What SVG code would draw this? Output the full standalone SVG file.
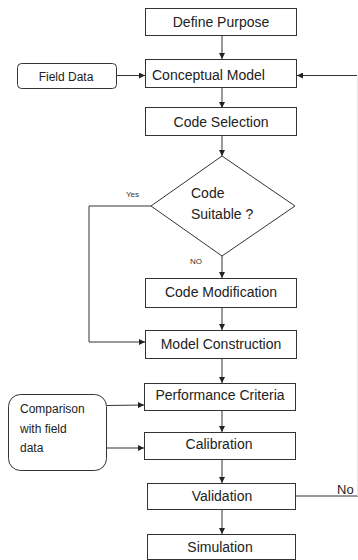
<svg xmlns="http://www.w3.org/2000/svg" width="358" height="560" viewBox="0 0 358 560">
<defs>
<marker id="ah" viewBox="0 0 6 6" refX="6" refY="3" markerWidth="6" markerHeight="6" markerUnits="userSpaceOnUse" orient="auto">
<path d="M0,0 L6,3 L0,6 Z" fill="#222"/>
</marker>
<style>
.box{fill:#fff;stroke:#333;stroke-width:1}
.t{font-family:"Liberation Sans",Arial,sans-serif;font-size:14px;fill:#222}
.tc{text-anchor:middle}
.s{font-family:"Liberation Sans",Arial,sans-serif;font-size:12px;fill:#222}
.xs{font-family:"Liberation Sans",Arial,sans-serif;font-size:8px;fill:#333}
.c{fill:none;stroke:#333;stroke-width:1}
.ca{fill:none;stroke:#333;stroke-width:1;marker-end:url(#ah)}
</style>
</defs>
<rect width="358" height="560" fill="#fff"/>
<g id="connectors">
<line class="ca" x1="222" y1="36" x2="222" y2="59"/>
<line class="ca" x1="117" y1="75.5" x2="145" y2="75.5"/>
<line class="ca" x1="357" y1="75.5" x2="297" y2="75.5"/>
<line class="ca" x1="222" y1="88" x2="222" y2="108"/>
<line class="ca" x1="222" y1="136" x2="222" y2="156"/>
<polyline class="ca" points="151,206 89,206 89,342 145,342"/>
<line class="ca" x1="222" y1="256" x2="222" y2="278"/>
<line class="ca" x1="222" y1="308" x2="222" y2="330"/>
<line class="ca" x1="222" y1="359" x2="222" y2="383"/>
<line class="ca" x1="107" y1="405.5" x2="144" y2="405"/>
<line class="ca" x1="222" y1="411" x2="222" y2="432"/>
<line class="ca" x1="107" y1="448" x2="144" y2="448"/>
<line class="ca" x1="222" y1="460" x2="222" y2="483"/>
<line class="ca" x1="222" y1="510" x2="222" y2="534"/>
<line class="c" x1="296" y1="496" x2="358" y2="496"/>
<line x1="357.5" y1="75.5" x2="357.5" y2="496" stroke="#e8e8e8" stroke-width="1"/>
<text class="xs" x="126" y="197">Yes</text>
<text class="xs" x="190" y="264">NO</text>
<text class="t" x="337" y="494" style="font-size:13px">No</text>
</g>
<g id="define-purpose">
<rect class="box" x="145.5" y="8.5" width="151" height="27"/>
<text class="t tc" x="221" y="27">Define Purpose</text>
</g>
<g id="field-data">
<rect class="box" x="17.5" y="63.5" width="99" height="25" rx="4"/>
<text class="s tc" x="66" y="80.5">Field Data</text>
</g>
<g id="conceptual-model">
<rect class="box" x="145.5" y="59.5" width="151" height="28"/>
<text class="t" x="152" y="80">Conceptual Model</text>
</g>
<g id="code-selection">
<rect class="box" x="145.5" y="107.5" width="151" height="28"/>
<text class="t tc" x="221" y="127">Code Selection</text>
</g>
<g id="code-suitable">
<polygon class="box" points="222,156 295,206 222,256 151,206"/>
<text class="t" x="191" y="198">Code</text>
<text class="t" x="191" y="219">Suitable ?</text>
</g>
<g id="code-modification">
<rect class="box" x="145.5" y="278.5" width="151" height="29"/>
<text class="t tc" x="221" y="297">Code Modification</text>
</g>
<g id="model-construction">
<rect class="box" x="145.5" y="330.5" width="151" height="28"/>
<text class="t tc" x="221" y="349">Model Construction</text>
</g>
<g id="performance-criteria">
<rect class="box" x="144.5" y="383.5" width="151" height="27"/>
<text class="t tc" x="220" y="400">Performance Criteria</text>
</g>
<g id="comparison">
<rect class="box" x="8.5" y="394.5" width="98" height="76" rx="12"/>
<text class="s" x="20" y="413">Comparison</text>
<text class="s" x="20" y="433">with field</text>
<text class="s" x="20" y="452">data</text>
</g>
<g id="calibration">
<rect class="box" x="144.5" y="432.5" width="151" height="27"/>
<text class="t tc" x="219" y="449">Calibration</text>
</g>
<g id="validation">
<rect class="box" x="147.5" y="483.5" width="148" height="26"/>
<text class="t tc" x="222" y="501">Validation</text>
</g>
<g id="simulation">
<rect class="box" x="147.5" y="534.5" width="148" height="25"/>
<text class="t tc" x="220" y="552">Simulation</text>
</g>
</svg>
